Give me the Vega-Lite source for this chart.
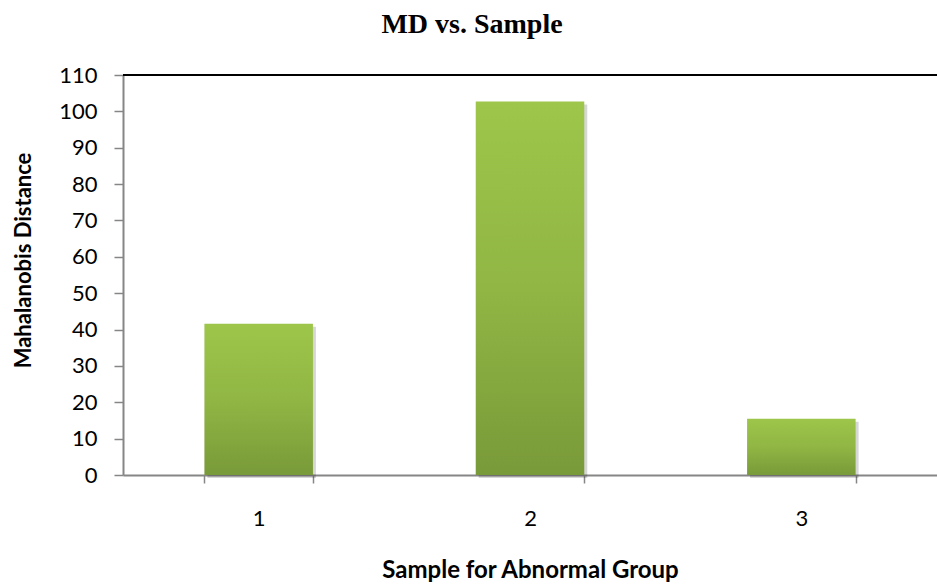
{
  "$schema": "https://vega.github.io/schema/vega-lite/v6.json",
  "autosize": "none",
  "padding": {"left": 123, "top": 75, "right": 0, "bottom": 111},
  "width": 814,
  "height": 400,
  "background": "white",
  "title": {
    "text": "MD vs. Sample",
    "font": "Liberation Serif",
    "fontSize": 28,
    "fontWeight": "bold",
    "color": "black",
    "anchor": "middle",
    "dx": -58,
    "offset": 25
  },
  "data": {
    "values": [
      {"sample": "1", "md": 41.6},
      {"sample": "2", "md": 102.7},
      {"sample": "3", "md": 15.5}
    ]
  },
  "config": {
    "view": {"stroke": null},
    "axis": {
      "labelFont": "Lato",
      "titleFont": "Lato",
      "labelColor": "black",
      "titleColor": "black",
      "domainColor": "#868686",
      "tickColor": "#868686",
      "domainWidth": 2,
      "tickWidth": 1.5,
      "grid": false
    },
    "axisY": {
      "labelFontSize": 22,
      "labelPadding": 17,
      "labelOverlap": false,
      "tickSize": 9,
      "titleFontSize": 22,
      "titleFontWeight": "bold",
      "titleAngle": -90,
      "titleBaseline": "middle",
      "titleX": -100,
      "titleY": 185
    }
  },
  "layer": [
    {
      "encoding": {
        "x": {
          "field": "sample",
          "type": "nominal",
          "scale": {"paddingInner": 0.6, "paddingOuter": 0.3},
          "axis": {
            "title": "Sample for Abnormal Group",
            "labelAngle": 0,
            "labelFontSize": 22,
            "labelBaseline": "middle",
            "labelPadding": 35,
            "tickSize": 8,
            "tickBand": "extent",
            "titleFontSize": 24,
            "titleFontWeight": "bold",
            "titleBaseline": "middle",
            "titleY": 95
          }
        },
        "y": {
          "field": "md",
          "type": "quantitative",
          "scale": {"domain": [0, 110], "nice": false},
          "axis": {
            "title": "Mahalanobis Distance",
            "values": [0, 10, 20, 30, 40, 50, 60, 70, 80, 90, 100, 110]
          }
        }
      },
      "layer": [
        {
          "mark": {"type": "bar", "color": "#000000", "opacity": 0.16, "xOffset": 3, "yOffset": 3}
        },
        {
          "mark": {
            "type": "bar",
            "color": {
              "gradient": "linear",
              "x1": 0, "y1": 0, "x2": 0, "y2": 1,
              "stops": [
                {"offset": 0, "color": "#9DC64A"},
                {"offset": 0.5, "color": "#91B644"},
                {"offset": 1, "color": "#799A39"}
              ]
            }
          }
        }
      ]
    },
    {
      "mark": {"type": "rule", "color": "black", "strokeWidth": 2},
      "encoding": {
        "y": {
          "datum": 110,
          "type": "quantitative",
          "scale": {"domain": [0, 110], "nice": false},
          "axis": {
            "title": "Mahalanobis Distance",
            "values": [0, 10, 20, 30, 40, 50, 60, 70, 80, 90, 100, 110]
          }
        }
      }
    }
  ]
}
